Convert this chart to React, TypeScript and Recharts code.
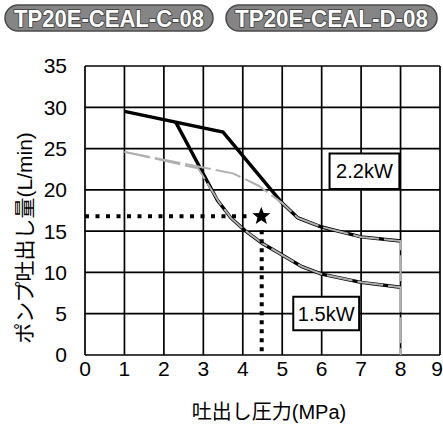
import React from 'react';
import {
  ComposedChart,
  Line,
  Scatter,
  XAxis,
  YAxis,
  CartesianGrid,
  ReferenceArea,
} from 'recharts';

// x: 吐出し圧力 (MPa), y: ポンプ吐出し量 (L/min)
const xTicks = [0, 1, 2, 3, 4, 5, 6, 7, 8, 9];
const yTicks = [0, 5, 10, 15, 20, 25, 30, 35];

const black22 = [
  { x: 1, y: 29.5 },
  { x: 3.5, y: 27.0 },
  { x: 5.0, y: 18.4 },
  { x: 5.4, y: 16.6 },
  { x: 6.0, y: 15.5 },
  { x: 7.0, y: 14.3 },
  { x: 8.0, y: 13.8 },
];

const black15 = [
  { x: 2.3, y: 28.2 },
  { x: 3.35, y: 18.8 },
  { x: 3.7, y: 16.6 },
  { x: 4.05, y: 15.1 },
  { x: 4.5, y: 13.5 },
  { x: 5.0, y: 12.1 },
  { x: 5.5, y: 10.7 },
  { x: 6.0, y: 9.8 },
  { x: 7.0, y: 8.8 },
  { x: 8.0, y: 8.2 },
];

const gray22 = [
  { x: 1, y: 24.6 },
  { x: 3.75, y: 22.0 },
  { x: 4.4, y: 20.5 },
  { x: 5.0, y: 18.4 },
  { x: 5.4, y: 16.6 },
  { x: 6.0, y: 15.5 },
  { x: 7.0, y: 14.3 },
  { x: 8.0, y: 13.8 },
  { x: 8.0, y: 0 },
];

const gray15 = [
  { x: 1, y: 24.6 },
  { x: 2.87, y: 22.6 },
  { x: 3.4, y: 18.5 },
  { x: 3.7, y: 16.6 },
  { x: 4.05, y: 15.1 },
  { x: 4.5, y: 13.5 },
  { x: 5.0, y: 12.1 },
  { x: 5.5, y: 10.7 },
  { x: 6.0, y: 9.8 },
  { x: 7.0, y: 8.8 },
  { x: 8.0, y: 8.2 },
];

const dottedH = [
  { x: 0, y: 16.8 },
  { x: 4.25, y: 16.8 },
];
const dottedV = [
  { x: 4.48, y: 15.1 },
  { x: 4.48, y: 0 },
];
const starPoint = [{ x: 4.47, y: 16.8 }];

const box22 = { x1: 6.2, x2: 7.97, y1: 20.1, y2: 24.4, label: '2.2kW' };
const box15 = { x1: 5.28, x2: 6.95, y1: 3.0, y2: 7.05, label: '1.5kW' };

const headers = ['TP20E-CEAL-C-08', 'TP20E-CEAL-D-08'];
const yTitle = 'ポンプ吐出し量(L/min)';
const xTitle = '吐出し圧力(MPa)';

const FONT = '"Liberation Sans", Arial, "Noto Sans CJK JP", sans-serif';

const Star = (props: any) => {
  const { cx, cy } = props;
  const R = 9.5;
  const r = 4;
  const pts: string[] = [];
  for (let i = 0; i < 10; i++) {
    const rad = i % 2 === 0 ? R : r;
    const a = -Math.PI / 2 + (i * Math.PI) / 5;
    pts.push(`${cx + rad * Math.cos(a)},${cy + rad * Math.sin(a)}`);
  }
  return <polygon points={pts.join(' ')} fill="#000" />;
};

const tickStyle = { fontSize: 21, fill: '#000', fontFamily: FONT };

const XTick = (props: any) => {
  const { x, y, payload } = props;
  const last = payload.value === xTicks[xTicks.length - 1];
  return (
    <text
      x={last ? x + 3 : x}
      y={y}
      dy="0.71em"
      textAnchor={last ? 'end' : 'middle'}
      fontSize={21}
      fill="#000"
      fontFamily={FONT}
    >
      {payload.value}
    </text>
  );
};

export default function App() {
  return (
    <div style={{ position: 'absolute', left: 0, top: 0, width: 443, height: 425, background: '#fff' }}>
      <ComposedChart
        width={443}
        height={425}
        margin={{ top: 66, right: 3, bottom: 0, left: 0 }}
      >
        <CartesianGrid stroke="#000" strokeWidth={1.7} />
        <XAxis
          type="number"
          dataKey="x"
          domain={[0, 9]}
          ticks={xTicks}
          interval={0}
          height={70}
          axisLine={false}
          tickLine={false}
          tickSize={0}
          tickMargin={6}
          tick={<XTick />}
          allowDataOverflow
        />
        <YAxis
          type="number"
          dataKey="y"
          domain={[0, 35]}
          ticks={yTicks}
          interval={0}
          width={85}
          axisLine={false}
          tickLine={false}
          tickSize={0}
          tickMargin={18}
          tick={tickStyle}
          allowDataOverflow
        />
        <Line data={black22} dataKey="y" stroke="#000" strokeWidth={3.4} dot={false} isAnimationActive={false} type="linear" />
        <Line data={black15} dataKey="y" stroke="#000" strokeWidth={3.4} dot={false} isAnimationActive={false} type="linear" />
        <Line data={gray22} dataKey="y" stroke="#b0b0b0" strokeWidth={2} strokeDasharray="26 5" dot={false} isAnimationActive={false} type="linear" />
        <Line data={gray15} dataKey="y" stroke="#b0b0b0" strokeWidth={2} strokeDasharray="26 5" dot={false} isAnimationActive={false} type="linear" />
        <Line data={dottedH} dataKey="y" stroke="#000" strokeWidth={4} strokeDasharray="4 6.5" dot={false} isAnimationActive={false} type="linear" />
        <Line data={dottedV} dataKey="y" stroke="#000" strokeWidth={4} strokeDasharray="4 5" dot={false} isAnimationActive={false} type="linear" />
        <Scatter data={starPoint} dataKey="y" shape={Star} isAnimationActive={false} />
        <ReferenceArea
          x1={box22.x1}
          x2={box22.x2}
          y1={box22.y1}
          y2={box22.y2}
          fill="#fff"
          fillOpacity={1}
          stroke="#000"
          strokeWidth={2}
          label={{ value: box22.label, position: 'center', fontSize: 20, fill: '#000', fontFamily: FONT }}
        />
        <ReferenceArea
          x1={box15.x1}
          x2={box15.x2}
          y1={box15.y1}
          y2={box15.y2}
          fill="#fff"
          fillOpacity={1}
          stroke="#000"
          strokeWidth={2}
          label={{ value: box15.label, position: 'center', fontSize: 20, fill: '#000', fontFamily: FONT }}
        />
      </ComposedChart>
      <svg
        width={443}
        height={425}
        style={{ position: 'absolute', left: 0, top: 0, pointerEvents: 'none' }}
      >
        {headers.map((h, i) => {
          const x = i === 0 ? 5 : 226;
          const w = i === 0 ? 208 : 211;
          return (
            <g key={h}>
              <rect x={x} y={5} width={w} height={26} rx={13} ry={13} fill="#858585" stroke="#4a4a4a" strokeWidth={1.5} />
              <text
                x={x + w / 2}
                y={26.5}
                textAnchor="middle"
                fontFamily={FONT}
                fontWeight="bold"
                fontSize={23}
                fill="#fff"
                stroke="#3a3a3a"
                strokeWidth={1.6}
                paintOrder="stroke"
                textLength={w - 18}
                lengthAdjust="spacingAndGlyphs"
              >
                {h}
              </text>
            </g>
          );
        })}
        <text
          x={24}
          y={238}
          transform="rotate(-90, 24, 238)"
          textAnchor="middle"
          dominantBaseline="central"
          fontFamily={FONT}
          fontSize={21}
          fill="#000"
        >
          {yTitle}
        </text>
        <text
          x={269}
          y={419}
          textAnchor="middle"
          fontFamily={FONT}
          fontSize={20}
          fill="#000"
        >
          {xTitle}
        </text>
      </svg>
    </div>
  );
}
